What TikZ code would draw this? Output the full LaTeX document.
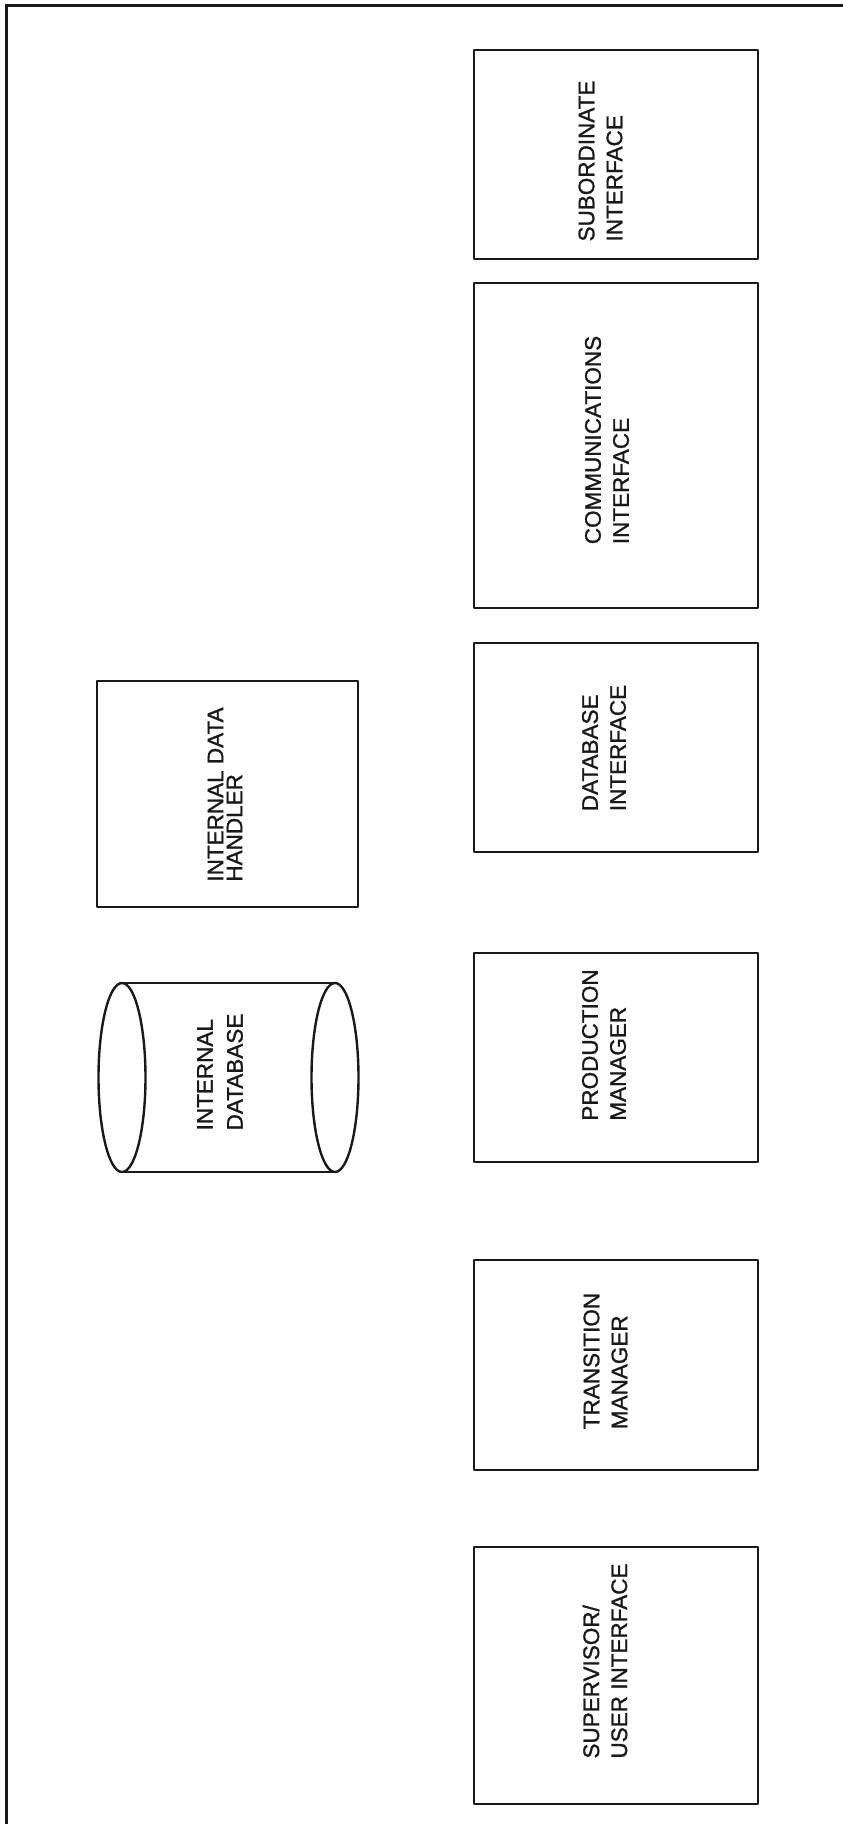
\documentclass[tikz,border=0pt]{standalone}
\usepackage{fontspec}
\setmainfont{Liberation Sans}
\newfontfamily\lblfont{Liberation Sans}[FakeBold=1.2]
\usepackage{tkz-euclide}
\definecolor{LineClr}{rgb}{0.1,0.1,0.1}
\tikzset{
  lbl/.style={rotate=90,align=left,inner sep=0pt,text=LineClr,
    font=\lblfont\fontsize{22.5}{28}\selectfont},
}

\begin{document}
\begin{tikzpicture}[x=1pt,y=-1pt]
\useasboundingbox (0,0) rectangle (843,1824);
\tkzSetUpLine[line width=2.4pt,color=LineClr]

% frame
\tkzDefPoints{6/1824/F0,6/5/F1,843/5/F2}
\draw[line width=3pt,color=LineClr] (F0) -- (F1) -- (F2);

% right column
\tkzDefPoints{474/50/S1,758/50/S2,758/259/S3,474/259/S4}
\tkzDefPoints{474/283/M1,758/283/M2,758/608/M3,474/608/M4}
\tkzDefPoints{474/643/D1,758/643/D2,758/852/D3,474/852/D4}
\tkzDefPoints{474/953/P1,758/953/P2,758/1162/P3,474/1162/P4}
\tkzDefPoints{474/1260/T1,758/1260/T2,758/1470/T3,474/1470/T4}
\tkzDefPoints{474/1547/U1,758/1547/U2,758/1804/U3,474/1804/U4}

\tkzDrawPolygon(S1,S2,S3,S4)
\tkzDrawPolygon(M1,M2,M3,M4)
\tkzDrawPolygon(D1,D2,D3,D4)
\tkzDrawPolygon(P1,P2,P3,P4)
\tkzDrawPolygon(T1,T2,T3,T4)
\tkzDrawPolygon(U1,U2,U3,U4)

% left column
\tkzDefPoints{97/681/H1,358/681/H2,358/907/H3,97/907/H4}
\tkzDrawPolygon(H1,H2,H3,H4)

\tkzDefPoints{122/1077.5/C0,335/1077.5/C5}
\tkzDefPoints{122/983/C1,335/983/C2,122/1172/C3,335/1172/C4}
\draw[line width=2.4pt,color=LineClr] (C0) ellipse [x radius=23.5,y radius=94.5];
\draw[line width=2.4pt,color=LineClr] (C5) ellipse [x radius=23.5,y radius=94.5];
\tkzDrawSegments(C1,C2 C3,C4)

% labels
\node[lbl] (sub) at (600.5,161) {SUBORDINATE\\INTERFACE};
\node[lbl] (comm) at (607,440) {COMMUNICATIONS\\INTERFACE};
\node[lbl] (dbi) at (604,748) {DATABASE\\INTERFACE};
\node[lbl] (prod) at (604,1045) {PRODUCTION\\MANAGER};
\node[lbl] (trans) at (605.5,1361) {TRANSITION\\MANAGER};
\node[lbl] (sup) at (605,1661) {SUPERVISOR/\\USER INTERFACE};
\node[lbl,font=\lblfont\fontsize{22.5}{19}\selectfont] (idh) at (225,794.5) {INTERNAL DATA\\HANDLER};
\node[lbl,font=\lblfont\fontsize{22.5}{30}\selectfont] (idb) at (220,1072) {INTERNAL\\DATABASE};

\end{tikzpicture}
\end{document}
